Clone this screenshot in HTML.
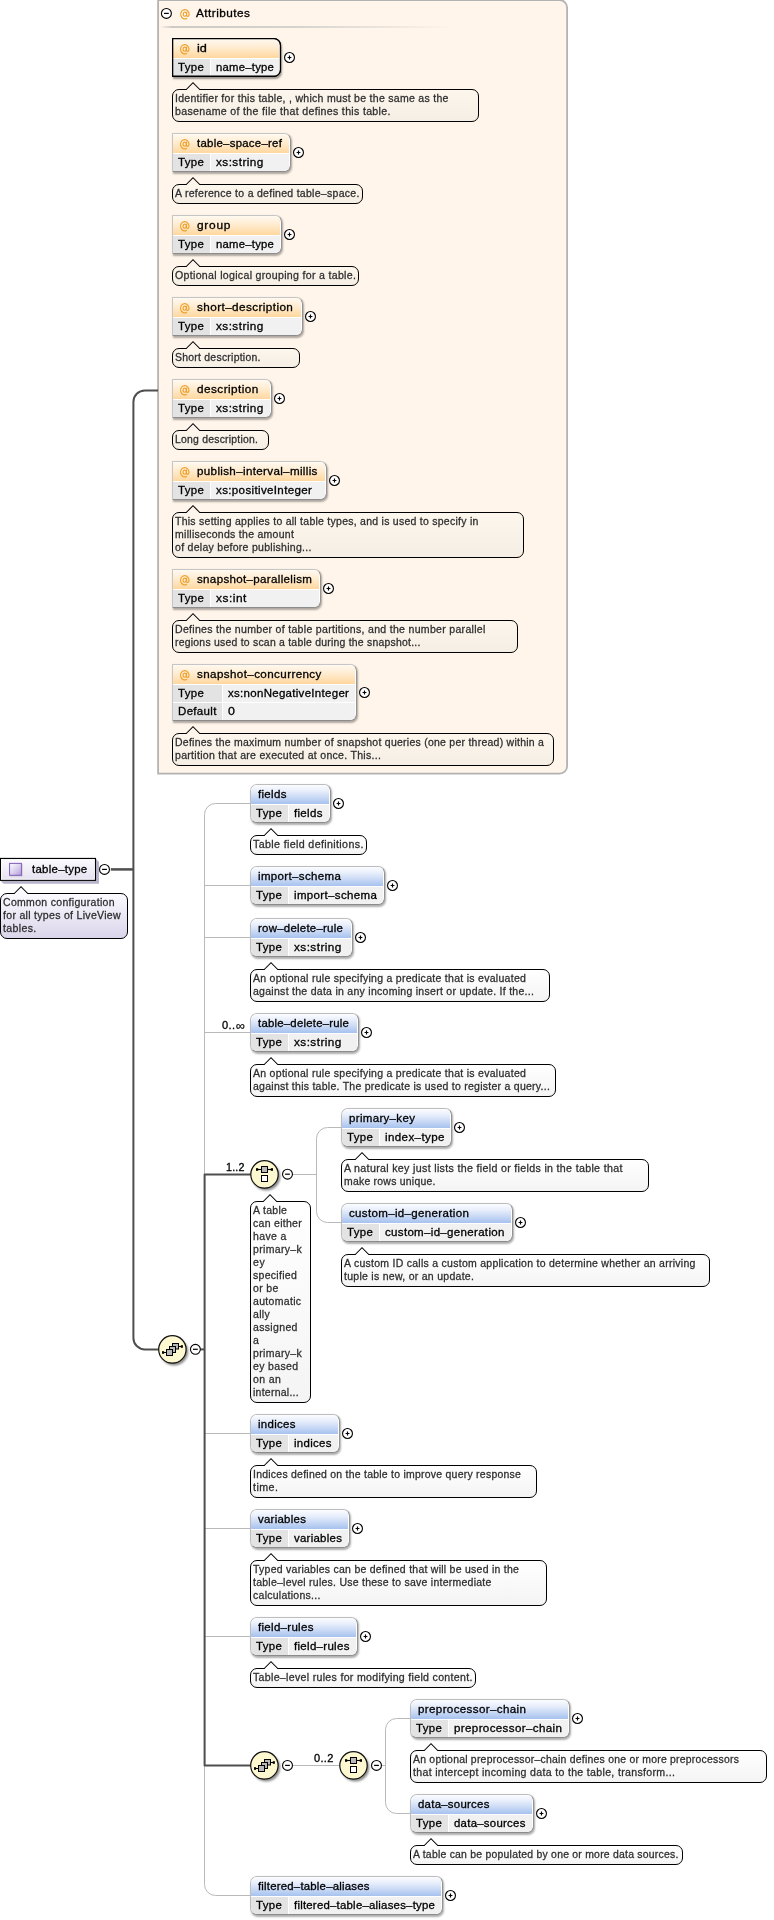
<!DOCTYPE html>
<html><head><meta charset="utf-8"><title>table-type</title><style>
html,body{margin:0;padding:0;background:#fff;}
body{width:774px;height:1920px;position:relative;overflow:hidden;font-family:"Liberation Sans", sans-serif;}
.t{position:absolute;white-space:pre;transform-origin:0 0;font-family:"Liberation Sans", sans-serif;}
.agrp{position:absolute;box-sizing:border-box;background:#fff5ea;border:1.7px solid #b5b5b5;border-radius:0 8px 8px 0;}
.asep{position:absolute;background:linear-gradient(to right,rgba(200,198,194,0),#cdcac6 3%,#d6d2cd 35%,rgba(232,226,218,0) 75%);}
.bx{position:absolute;box-sizing:border-box;border:1px solid;border-color:#bdbdbd #939393 #8c8c8c #bdbdbd;background:#fff;overflow:hidden;box-shadow:1px 1.5px 2px rgba(0,0,0,.32);}
.bx.attr{border-radius:0 7px 7px 0;border-color:#c6c6c6 #939393 #8c8c8c #c6c6c6;}
.bx.attr.req{border:1px solid #000;box-shadow:1px 2px 2px rgba(0,0,0,.4);}
.bx.elem{border-radius:7px;}
.bx .hd{position:absolute;left:0;top:0;right:1px;height:19px;}
.bx.attr .hd{background:linear-gradient(#fff9f1,#ffecd0 45%,#ffd79e);}
.bx.elem .hd{background:linear-gradient(#fbfcff,#e9effb 30%,#ccdbf6 62%,#a6c2ee);}
.bx .k{position:absolute;left:0;background:#e3e3e3;}
.bx .v{position:absolute;right:1px;background:#f1f1f1;}
.tt{position:absolute;box-sizing:border-box;border:1.1px solid #000;border-radius:7px;background:linear-gradient(#fff,#f4f4f4);}
.tt.attr{background:linear-gradient(#fdf6ed,#f5eee5);}
.tt.root{background:linear-gradient(#fbfaff,#dad5ea);}
.ptr{position:absolute;overflow:visible;}
.rootbx{position:absolute;box-sizing:border-box;border:1px solid #000;background:linear-gradient(#fff,#e6e2f2);box-shadow:0 0 0 .45px #000,2px 2.5px 2px rgba(0,0,0,.45);}
.ricon{position:absolute;box-sizing:border-box;border:1.2px solid #7d62b3;background:linear-gradient(135deg,#ece6fa,#b9a6e2);}
svg.ov{position:absolute;left:0;top:0;}
</style></head><body>
<svg class="ov" width="774" height="1920" viewBox="0 0 774 1920"><path d="M158.1 0.1 H559.7 A7.4 7.4 0 0 1 567.1 7.5 V766.2 A7.4 7.4 0 0 1 559.7 773.6 H158.1 Z" fill="#fff5ea" stroke="#b3b3b3" stroke-width="1.8"/><defs><linearGradient id="rg" x1="0" y1="0" x2="0" y2="1"><stop offset="0" stop-color="#fcfbfe"/><stop offset="1" stop-color="#e5e1f0"/></linearGradient><linearGradient id="rs" x1="0" y1="0" x2="1" y2="1"><stop offset="0" stop-color="#a3a0b8"/><stop offset="1" stop-color="#cfcde0"/></linearGradient><linearGradient id="ri" x1="0" y1="0" x2="1" y2="1"><stop offset="0" stop-color="#ffffff"/><stop offset="0.5" stop-color="#dcd2ee"/><stop offset="1" stop-color="#b29bd6"/></linearGradient></defs><path d="M96.1 859.1 L99 862 V883.8 H3.6 L0.8 880.9 H96.1 Z" fill="#b7b4cb"/><path d="M96.1 880.9 H0.8 L3.6 883.8 H99 V862 L96.1 859.1 Z" fill="url(#rs)" opacity="0.0"/><rect x="0.4" y="858.5" width="95.05" height="21.8" fill="url(#rg)" stroke="#000" stroke-width="1.25"/><rect x="1.5" y="859.6" width="92.9" height="19.6" fill="none" stroke="#fff" stroke-width="0.9" opacity="0.85"/><rect x="10.2" y="864" width="12.4" height="12.4" fill="#999" opacity="0.45"/><rect x="9.55" y="863.4" width="11.9" height="11.9" fill="url(#ri)" stroke="#8867c2" stroke-width="1.1"/><path d="M250 803.5 H215.5 A11 11 0 0 0 204.5 814.5 V1884.5 A11 11 0 0 0 215.5 1895.5 H250" stroke="#b9b9b9" stroke-width="1" fill="none"/><path d="M204.5 885.5 H250" stroke="#b9b9b9" stroke-width="1" fill="none"/><path d="M204.5 937.5 H250" stroke="#b9b9b9" stroke-width="1" fill="none"/><path d="M204.5 1032.5 H250" stroke="#b9b9b9" stroke-width="1" fill="none"/><path d="M204.5 1433.5 H250" stroke="#b9b9b9" stroke-width="1" fill="none"/><path d="M204.5 1528.5 H250" stroke="#b9b9b9" stroke-width="1" fill="none"/><path d="M204.5 1636.5 H250" stroke="#b9b9b9" stroke-width="1" fill="none"/><path d="M292 1174.5 H316.5" stroke="#b9b9b9" stroke-width="1" fill="none"/><path d="M341 1127.5 H327.5 A11 11 0 0 0 316.5 1138.5 V1211.5 A11 11 0 0 0 327.5 1222.5 H341" stroke="#b9b9b9" stroke-width="1" fill="none"/><path d="M292 1765.5 H340" stroke="#b9b9b9" stroke-width="1" fill="none"/><path d="M381 1765.5 H385.5" stroke="#b9b9b9" stroke-width="1" fill="none"/><path d="M410 1718.5 H396.5 A11 11 0 0 0 385.5 1729.5 V1802.5 A11 11 0 0 0 396.5 1813.5 H410" stroke="#b9b9b9" stroke-width="1" fill="none"/><path d="M110.8 869.4 H133.4" stroke="#4e4e4e" stroke-width="2.5" fill="none"/><path d="M158 390.4 H144.9 A11.5 11.5 0 0 0 133.4 401.9 V1337.9 A11.5 11.5 0 0 0 144.9 1349.4 H160" stroke="#4e4e4e" stroke-width="2" fill="none"/><path d="M200.5 1349.4 H204.6" stroke="#4e4e4e" stroke-width="2" fill="none"/><path d="M252 1174.5 H204.6 V1765.4 H252" stroke="#4e4e4e" stroke-width="2" fill="none" stroke-linejoin="round"/></svg>
<div class="asep" style="left:160px;top:26px;width:392px;height:2px"></div>
<div class="bx attr req" style="left:172px;top:38px;width:109px;height:39px">
<div class="hd"></div>
<div class="k" style="top:20px;height:17px;width:37px"></div><div class="v" style="top:20px;height:17px;left:38px"></div>
</div>
<div class="tt attr" style="left:172px;top:89px;width:307px;height:33px"></div>
<svg class="ptr" style="left:184.5px;top:81px" width="16" height="10" viewBox="0 0 16 10"><path d="M1.2 8.5 L8 1.7 L14.8 8.5 L14.8 9.6 L1.2 9.6 Z" fill="#fdf5ec"/><path d="M0.7 8.5 H1.2 L8 1.7 L14.8 8.5 H15.3" fill="none" stroke="#000" stroke-width="1.05"/></svg>
<div class="bx attr" style="left:172px;top:133px;width:119px;height:39px">
<div class="hd"></div>
<div class="k" style="top:20px;height:17px;width:37px"></div><div class="v" style="top:20px;height:17px;left:38px"></div>
</div>
<div class="tt attr" style="left:172px;top:184px;width:191px;height:20px"></div>
<svg class="ptr" style="left:184.5px;top:176px" width="16" height="10" viewBox="0 0 16 10"><path d="M1.2 8.5 L8 1.7 L14.8 8.5 L14.8 9.6 L1.2 9.6 Z" fill="#fdf5ec"/><path d="M0.7 8.5 H1.2 L8 1.7 L14.8 8.5 H15.3" fill="none" stroke="#000" stroke-width="1.05"/></svg>
<div class="bx attr" style="left:172px;top:215px;width:110px;height:39px">
<div class="hd"></div>
<div class="k" style="top:20px;height:17px;width:37px"></div><div class="v" style="top:20px;height:17px;left:38px"></div>
</div>
<div class="tt attr" style="left:172px;top:266px;width:187px;height:20px"></div>
<svg class="ptr" style="left:184.5px;top:258px" width="16" height="10" viewBox="0 0 16 10"><path d="M1.2 8.5 L8 1.7 L14.8 8.5 L14.8 9.6 L1.2 9.6 Z" fill="#fdf5ec"/><path d="M0.7 8.5 H1.2 L8 1.7 L14.8 8.5 H15.3" fill="none" stroke="#000" stroke-width="1.05"/></svg>
<div class="bx attr" style="left:172px;top:297px;width:131px;height:39px">
<div class="hd"></div>
<div class="k" style="top:20px;height:17px;width:37px"></div><div class="v" style="top:20px;height:17px;left:38px"></div>
</div>
<div class="tt attr" style="left:172px;top:348px;width:128px;height:20px"></div>
<svg class="ptr" style="left:184.5px;top:340px" width="16" height="10" viewBox="0 0 16 10"><path d="M1.2 8.5 L8 1.7 L14.8 8.5 L14.8 9.6 L1.2 9.6 Z" fill="#fdf5ec"/><path d="M0.7 8.5 H1.2 L8 1.7 L14.8 8.5 H15.3" fill="none" stroke="#000" stroke-width="1.05"/></svg>
<div class="bx attr" style="left:172px;top:379px;width:100px;height:39px">
<div class="hd"></div>
<div class="k" style="top:20px;height:17px;width:37px"></div><div class="v" style="top:20px;height:17px;left:38px"></div>
</div>
<div class="tt attr" style="left:172px;top:430px;width:97px;height:20px"></div>
<svg class="ptr" style="left:184.5px;top:422px" width="16" height="10" viewBox="0 0 16 10"><path d="M1.2 8.5 L8 1.7 L14.8 8.5 L14.8 9.6 L1.2 9.6 Z" fill="#fdf5ec"/><path d="M0.7 8.5 H1.2 L8 1.7 L14.8 8.5 H15.3" fill="none" stroke="#000" stroke-width="1.05"/></svg>
<div class="bx attr" style="left:172px;top:461px;width:155px;height:39px">
<div class="hd"></div>
<div class="k" style="top:20px;height:17px;width:37px"></div><div class="v" style="top:20px;height:17px;left:38px"></div>
</div>
<div class="tt attr" style="left:172px;top:512px;width:352px;height:46px"></div>
<svg class="ptr" style="left:184.5px;top:504px" width="16" height="10" viewBox="0 0 16 10"><path d="M1.2 8.5 L8 1.7 L14.8 8.5 L14.8 9.6 L1.2 9.6 Z" fill="#fdf5ec"/><path d="M0.7 8.5 H1.2 L8 1.7 L14.8 8.5 H15.3" fill="none" stroke="#000" stroke-width="1.05"/></svg>
<div class="bx attr" style="left:172px;top:569px;width:149px;height:39px">
<div class="hd"></div>
<div class="k" style="top:20px;height:17px;width:37px"></div><div class="v" style="top:20px;height:17px;left:38px"></div>
</div>
<div class="tt attr" style="left:172px;top:620px;width:346px;height:33px"></div>
<svg class="ptr" style="left:184.5px;top:612px" width="16" height="10" viewBox="0 0 16 10"><path d="M1.2 8.5 L8 1.7 L14.8 8.5 L14.8 9.6 L1.2 9.6 Z" fill="#fdf5ec"/><path d="M0.7 8.5 H1.2 L8 1.7 L14.8 8.5 H15.3" fill="none" stroke="#000" stroke-width="1.05"/></svg>
<div class="bx attr" style="left:172px;top:664px;width:185px;height:57px">
<div class="hd"></div>
<div class="k" style="top:20px;height:17px;width:49px"></div><div class="v" style="top:20px;height:17px;left:50px"></div>
<div class="k" style="top:38px;height:17px;width:49px"></div><div class="v" style="top:38px;height:17px;left:50px"></div>
</div>
<div class="tt attr" style="left:172px;top:733px;width:382px;height:33px"></div>
<svg class="ptr" style="left:184.5px;top:725px" width="16" height="10" viewBox="0 0 16 10"><path d="M1.2 8.5 L8 1.7 L14.8 8.5 L14.8 9.6 L1.2 9.6 Z" fill="#fdf5ec"/><path d="M0.7 8.5 H1.2 L8 1.7 L14.8 8.5 H15.3" fill="none" stroke="#000" stroke-width="1.05"/></svg>
<div class="tt root" style="left:0px;top:893px;width:128px;height:46px"></div>
<svg class="ptr" style="left:12.7px;top:885px" width="16" height="10" viewBox="0 0 16 10"><path d="M1.2 8.5 L8 1.7 L14.8 8.5 L14.8 9.6 L1.2 9.6 Z" fill="#fbfaff"/><path d="M0.7 8.5 H1.2 L8 1.7 L14.8 8.5 H15.3" fill="none" stroke="#000" stroke-width="1.05"/></svg>
<div class="bx elem" style="left:250px;top:784px;width:81px;height:39px">
<div class="hd"></div>
<div class="k" style="top:20px;height:17px;width:37px"></div><div class="v" style="top:20px;height:17px;left:38px"></div>
</div>
<div class="tt el" style="left:250px;top:835px;width:117px;height:20px"></div>
<svg class="ptr" style="left:262.5px;top:827px" width="16" height="10" viewBox="0 0 16 10"><path d="M1.2 8.5 L8 1.7 L14.8 8.5 L14.8 9.6 L1.2 9.6 Z" fill="#fff"/><path d="M0.7 8.5 H1.2 L8 1.7 L14.8 8.5 H15.3" fill="none" stroke="#000" stroke-width="1.05"/></svg>
<div class="bx elem" style="left:250px;top:866px;width:135px;height:39px">
<div class="hd"></div>
<div class="k" style="top:20px;height:17px;width:37px"></div><div class="v" style="top:20px;height:17px;left:38px"></div>
</div>
<div class="bx elem" style="left:250px;top:918px;width:103px;height:39px">
<div class="hd"></div>
<div class="k" style="top:20px;height:17px;width:37px"></div><div class="v" style="top:20px;height:17px;left:38px"></div>
</div>
<div class="tt el" style="left:250px;top:969px;width:300px;height:33px"></div>
<svg class="ptr" style="left:262.5px;top:961px" width="16" height="10" viewBox="0 0 16 10"><path d="M1.2 8.5 L8 1.7 L14.8 8.5 L14.8 9.6 L1.2 9.6 Z" fill="#fff"/><path d="M0.7 8.5 H1.2 L8 1.7 L14.8 8.5 H15.3" fill="none" stroke="#000" stroke-width="1.05"/></svg>
<div class="bx elem" style="left:250px;top:1013px;width:109px;height:39px">
<div class="hd"></div>
<div class="k" style="top:20px;height:17px;width:37px"></div><div class="v" style="top:20px;height:17px;left:38px"></div>
</div>
<div class="tt el" style="left:250px;top:1064px;width:306px;height:33px"></div>
<svg class="ptr" style="left:262.5px;top:1056px" width="16" height="10" viewBox="0 0 16 10"><path d="M1.2 8.5 L8 1.7 L14.8 8.5 L14.8 9.6 L1.2 9.6 Z" fill="#fff"/><path d="M0.7 8.5 H1.2 L8 1.7 L14.8 8.5 H15.3" fill="none" stroke="#000" stroke-width="1.05"/></svg>
<div class="bx elem" style="left:341px;top:1108px;width:111px;height:39px">
<div class="hd"></div>
<div class="k" style="top:20px;height:17px;width:37px"></div><div class="v" style="top:20px;height:17px;left:38px"></div>
</div>
<div class="tt el" style="left:341px;top:1159px;width:308px;height:33px"></div>
<svg class="ptr" style="left:353.5px;top:1151px" width="16" height="10" viewBox="0 0 16 10"><path d="M1.2 8.5 L8 1.7 L14.8 8.5 L14.8 9.6 L1.2 9.6 Z" fill="#fff"/><path d="M0.7 8.5 H1.2 L8 1.7 L14.8 8.5 H15.3" fill="none" stroke="#000" stroke-width="1.05"/></svg>
<div class="bx elem" style="left:341px;top:1203px;width:172px;height:39px">
<div class="hd"></div>
<div class="k" style="top:20px;height:17px;width:37px"></div><div class="v" style="top:20px;height:17px;left:38px"></div>
</div>
<div class="tt el" style="left:341px;top:1254px;width:369px;height:33px"></div>
<svg class="ptr" style="left:353.5px;top:1246px" width="16" height="10" viewBox="0 0 16 10"><path d="M1.2 8.5 L8 1.7 L14.8 8.5 L14.8 9.6 L1.2 9.6 Z" fill="#fff"/><path d="M0.7 8.5 H1.2 L8 1.7 L14.8 8.5 H15.3" fill="none" stroke="#000" stroke-width="1.05"/></svg>
<div class="bx elem" style="left:250px;top:1414px;width:90px;height:39px">
<div class="hd"></div>
<div class="k" style="top:20px;height:17px;width:37px"></div><div class="v" style="top:20px;height:17px;left:38px"></div>
</div>
<div class="tt el" style="left:250px;top:1465px;width:287px;height:33px"></div>
<svg class="ptr" style="left:262.5px;top:1457px" width="16" height="10" viewBox="0 0 16 10"><path d="M1.2 8.5 L8 1.7 L14.8 8.5 L14.8 9.6 L1.2 9.6 Z" fill="#fff"/><path d="M0.7 8.5 H1.2 L8 1.7 L14.8 8.5 H15.3" fill="none" stroke="#000" stroke-width="1.05"/></svg>
<div class="bx elem" style="left:250px;top:1509px;width:100px;height:39px">
<div class="hd"></div>
<div class="k" style="top:20px;height:17px;width:37px"></div><div class="v" style="top:20px;height:17px;left:38px"></div>
</div>
<div class="tt el" style="left:250px;top:1560px;width:297px;height:46px"></div>
<svg class="ptr" style="left:262.5px;top:1552px" width="16" height="10" viewBox="0 0 16 10"><path d="M1.2 8.5 L8 1.7 L14.8 8.5 L14.8 9.6 L1.2 9.6 Z" fill="#fff"/><path d="M0.7 8.5 H1.2 L8 1.7 L14.8 8.5 H15.3" fill="none" stroke="#000" stroke-width="1.05"/></svg>
<div class="bx elem" style="left:250px;top:1617px;width:108px;height:39px">
<div class="hd"></div>
<div class="k" style="top:20px;height:17px;width:37px"></div><div class="v" style="top:20px;height:17px;left:38px"></div>
</div>
<div class="tt el" style="left:250px;top:1668px;width:226px;height:20px"></div>
<svg class="ptr" style="left:262.5px;top:1660px" width="16" height="10" viewBox="0 0 16 10"><path d="M1.2 8.5 L8 1.7 L14.8 8.5 L14.8 9.6 L1.2 9.6 Z" fill="#fff"/><path d="M0.7 8.5 H1.2 L8 1.7 L14.8 8.5 H15.3" fill="none" stroke="#000" stroke-width="1.05"/></svg>
<div class="bx elem" style="left:410px;top:1699px;width:160px;height:39px">
<div class="hd"></div>
<div class="k" style="top:20px;height:17px;width:37px"></div><div class="v" style="top:20px;height:17px;left:38px"></div>
</div>
<div class="tt el" style="left:410px;top:1750px;width:357px;height:33px"></div>
<svg class="ptr" style="left:422.5px;top:1742px" width="16" height="10" viewBox="0 0 16 10"><path d="M1.2 8.5 L8 1.7 L14.8 8.5 L14.8 9.6 L1.2 9.6 Z" fill="#fff"/><path d="M0.7 8.5 H1.2 L8 1.7 L14.8 8.5 H15.3" fill="none" stroke="#000" stroke-width="1.05"/></svg>
<div class="bx elem" style="left:410px;top:1794px;width:124px;height:39px">
<div class="hd"></div>
<div class="k" style="top:20px;height:17px;width:37px"></div><div class="v" style="top:20px;height:17px;left:38px"></div>
</div>
<div class="tt el" style="left:410px;top:1845px;width:273px;height:20px"></div>
<svg class="ptr" style="left:422.5px;top:1837px" width="16" height="10" viewBox="0 0 16 10"><path d="M1.2 8.5 L8 1.7 L14.8 8.5 L14.8 9.6 L1.2 9.6 Z" fill="#fff"/><path d="M0.7 8.5 H1.2 L8 1.7 L14.8 8.5 H15.3" fill="none" stroke="#000" stroke-width="1.05"/></svg>
<div class="bx elem" style="left:250px;top:1876px;width:193px;height:39px">
<div class="hd"></div>
<div class="k" style="top:20px;height:17px;width:37px"></div><div class="v" style="top:20px;height:17px;left:38px"></div>
</div>
<div class="tt el" style="left:250px;top:1201px;width:61px;height:202px"></div>
<svg class="ptr" style="left:262.2px;top:1193px" width="16" height="10" viewBox="0 0 16 10"><path d="M1.2 8.5 L8 1.7 L14.8 8.5 L14.8 9.6 L1.2 9.6 Z" fill="#fff"/><path d="M0.7 8.5 H1.2 L8 1.7 L14.8 8.5 H15.3" fill="none" stroke="#000" stroke-width="1.05"/></svg>
<span class="t" style="left:196.40px;top:7.69px;font-size:11px;line-height:11px;color:#000;transform:scaleX(1.0720);letter-spacing:0.424px;-webkit-text-stroke:0.3px #000;">Attributes</span>
<span class="t" style="left:197.00px;top:42.99px;font-size:11px;line-height:11px;color:#000;transform:scaleX(1.1562);-webkit-text-stroke:0.3px #000;">id</span>
<span class="t" style="left:177.90px;top:62.19px;font-size:11px;line-height:11px;color:#000;transform:scaleX(1.0385);letter-spacing:0.360px;-webkit-text-stroke:0.3px #000;">Type</span>
<span class="t" style="left:215.90px;top:62.19px;font-size:11px;line-height:11px;color:#000;transform:scaleX(1.0286);letter-spacing:0.231px;-webkit-text-stroke:0.3px #000;">name–type</span>
<span class="t" style="left:175.40px;top:93.53px;font-size:10px;line-height:10px;color:#2e2e2e;transform:scaleX(1.0530);letter-spacing:0.264px;-webkit-text-stroke:0.26px #2e2e2e;">Identifier for this table, , which must be the same as the</span>
<span class="t" style="left:175.40px;top:106.53px;font-size:10px;line-height:10px;color:#2e2e2e;transform:scaleX(1.0598);letter-spacing:0.298px;-webkit-text-stroke:0.26px #2e2e2e;">basename of the file that defines this table.</span>
<span class="t" style="left:197.00px;top:137.99px;font-size:11px;line-height:11px;color:#000;transform:scaleX(1.0380);letter-spacing:0.250px;-webkit-text-stroke:0.3px #000;">table–space–ref</span>
<span class="t" style="left:177.90px;top:157.19px;font-size:11px;line-height:11px;color:#000;transform:scaleX(1.0385);letter-spacing:0.360px;-webkit-text-stroke:0.3px #000;">Type</span>
<span class="t" style="left:215.90px;top:157.19px;font-size:11px;line-height:11px;color:#000;transform:scaleX(1.0706);letter-spacing:0.413px;-webkit-text-stroke:0.3px #000;">xs:string</span>
<span class="t" style="left:175.40px;top:188.53px;font-size:10px;line-height:10px;color:#2e2e2e;transform:scaleX(1.0508);letter-spacing:0.272px;-webkit-text-stroke:0.26px #2e2e2e;">A reference to a defined table–space.</span>
<span class="t" style="left:197.00px;top:219.99px;font-size:11px;line-height:11px;color:#000;transform:scaleX(1.0841);letter-spacing:0.667px;-webkit-text-stroke:0.3px #000;">group</span>
<span class="t" style="left:177.90px;top:239.19px;font-size:11px;line-height:11px;color:#000;transform:scaleX(1.0385);letter-spacing:0.360px;-webkit-text-stroke:0.3px #000;">Type</span>
<span class="t" style="left:215.90px;top:239.19px;font-size:11px;line-height:11px;color:#000;transform:scaleX(1.0286);letter-spacing:0.231px;-webkit-text-stroke:0.3px #000;">name–type</span>
<span class="t" style="left:175.40px;top:270.54px;font-size:10px;line-height:10px;color:#2e2e2e;transform:scaleX(1.0584);letter-spacing:0.292px;-webkit-text-stroke:0.26px #2e2e2e;">Optional logical grouping for a table.</span>
<span class="t" style="left:197.00px;top:301.99px;font-size:11px;line-height:11px;color:#000;transform:scaleX(1.0651);letter-spacing:0.391px;-webkit-text-stroke:0.3px #000;">short–description</span>
<span class="t" style="left:177.90px;top:321.19px;font-size:11px;line-height:11px;color:#000;transform:scaleX(1.0385);letter-spacing:0.360px;-webkit-text-stroke:0.3px #000;">Type</span>
<span class="t" style="left:215.90px;top:321.19px;font-size:11px;line-height:11px;color:#000;transform:scaleX(1.0706);letter-spacing:0.413px;-webkit-text-stroke:0.3px #000;">xs:string</span>
<span class="t" style="left:175.40px;top:352.54px;font-size:10px;line-height:10px;color:#2e2e2e;transform:scaleX(1.0438);letter-spacing:0.235px;-webkit-text-stroke:0.26px #2e2e2e;">Short description.</span>
<span class="t" style="left:197.00px;top:383.99px;font-size:11px;line-height:11px;color:#000;transform:scaleX(1.0693);letter-spacing:0.422px;-webkit-text-stroke:0.3px #000;">description</span>
<span class="t" style="left:177.90px;top:403.19px;font-size:11px;line-height:11px;color:#000;transform:scaleX(1.0385);letter-spacing:0.360px;-webkit-text-stroke:0.3px #000;">Type</span>
<span class="t" style="left:215.90px;top:403.19px;font-size:11px;line-height:11px;color:#000;transform:scaleX(1.0706);letter-spacing:0.413px;-webkit-text-stroke:0.3px #000;">xs:string</span>
<span class="t" style="left:175.40px;top:434.54px;font-size:10px;line-height:10px;color:#2e2e2e;transform:scaleX(1.0397);letter-spacing:0.222px;-webkit-text-stroke:0.26px #2e2e2e;">Long description.</span>
<span class="t" style="left:197.00px;top:465.99px;font-size:11px;line-height:11px;color:#000;transform:scaleX(1.0564);letter-spacing:0.317px;-webkit-text-stroke:0.3px #000;">publish–interval–millis</span>
<span class="t" style="left:177.90px;top:485.19px;font-size:11px;line-height:11px;color:#000;transform:scaleX(1.0385);letter-spacing:0.360px;-webkit-text-stroke:0.3px #000;">Type</span>
<span class="t" style="left:215.90px;top:485.19px;font-size:11px;line-height:11px;color:#000;transform:scaleX(1.0541);letter-spacing:0.316px;-webkit-text-stroke:0.3px #000;">xs:positiveInteger</span>
<span class="t" style="left:175.40px;top:516.53px;font-size:10px;line-height:10px;color:#2e2e2e;transform:scaleX(1.0502);letter-spacing:0.245px;-webkit-text-stroke:0.26px #2e2e2e;">This setting applies to all table types, and is used to specify in</span>
<span class="t" style="left:175.40px;top:529.53px;font-size:10px;line-height:10px;color:#2e2e2e;transform:scaleX(1.0487);letter-spacing:0.277px;-webkit-text-stroke:0.26px #2e2e2e;">milliseconds the amount</span>
<span class="t" style="left:175.40px;top:542.53px;font-size:10px;line-height:10px;color:#2e2e2e;transform:scaleX(1.0518);letter-spacing:0.263px;-webkit-text-stroke:0.26px #2e2e2e;">of delay before publishing...</span>
<span class="t" style="left:197.00px;top:573.99px;font-size:11px;line-height:11px;color:#000;transform:scaleX(1.0503);letter-spacing:0.318px;-webkit-text-stroke:0.3px #000;">snapshot–parallelism</span>
<span class="t" style="left:177.90px;top:593.19px;font-size:11px;line-height:11px;color:#000;transform:scaleX(1.0385);letter-spacing:0.360px;-webkit-text-stroke:0.3px #000;">Type</span>
<span class="t" style="left:215.90px;top:593.19px;font-size:11px;line-height:11px;color:#000;transform:scaleX(1.0826);letter-spacing:0.479px;-webkit-text-stroke:0.3px #000;">xs:int</span>
<span class="t" style="left:175.40px;top:624.53px;font-size:10px;line-height:10px;color:#2e2e2e;transform:scaleX(1.0545);letter-spacing:0.282px;-webkit-text-stroke:0.26px #2e2e2e;">Defines the number of table partitions, and the number parallel</span>
<span class="t" style="left:175.40px;top:637.53px;font-size:10px;line-height:10px;color:#2e2e2e;transform:scaleX(1.0429);letter-spacing:0.225px;-webkit-text-stroke:0.26px #2e2e2e;">regions used to scan a table during the snapshot...</span>
<span class="t" style="left:197.00px;top:668.99px;font-size:11px;line-height:11px;color:#000;transform:scaleX(1.0557);letter-spacing:0.376px;-webkit-text-stroke:0.3px #000;">snapshot–concurrency</span>
<span class="t" style="left:177.90px;top:688.19px;font-size:11px;line-height:11px;color:#000;transform:scaleX(1.0385);letter-spacing:0.360px;-webkit-text-stroke:0.3px #000;">Type</span>
<span class="t" style="left:227.90px;top:688.19px;font-size:11px;line-height:11px;color:#000;transform:scaleX(1.0442);letter-spacing:0.285px;-webkit-text-stroke:0.3px #000;">xs:nonNegativeInteger</span>
<span class="t" style="left:177.90px;top:706.19px;font-size:11px;line-height:11px;color:#000;transform:scaleX(1.0457);letter-spacing:0.310px;-webkit-text-stroke:0.3px #000;">Default</span>
<span class="t" style="left:227.90px;top:706.19px;font-size:11px;line-height:11px;color:#000;transform:scaleX(1.1265);-webkit-text-stroke:0.3px #000;">0</span>
<span class="t" style="left:175.40px;top:737.53px;font-size:10px;line-height:10px;color:#2e2e2e;transform:scaleX(1.0461);letter-spacing:0.254px;-webkit-text-stroke:0.26px #2e2e2e;">Defines the maximum number of snapshot queries (one per thread) within a</span>
<span class="t" style="left:175.40px;top:750.53px;font-size:10px;line-height:10px;color:#2e2e2e;transform:scaleX(1.0540);letter-spacing:0.268px;-webkit-text-stroke:0.26px #2e2e2e;">partition that are executed at once. This...</span>
<span class="t" style="left:31.70px;top:864.09px;font-size:11px;line-height:11px;color:#000;transform:scaleX(1.0393);letter-spacing:0.261px;-webkit-text-stroke:0.3px #000;">table–type</span>
<span class="t" style="left:3.40px;top:897.53px;font-size:10px;line-height:10px;color:#2e2e2e;transform:scaleX(1.0492);letter-spacing:0.303px;-webkit-text-stroke:0.26px #2e2e2e;">Common configuration</span>
<span class="t" style="left:3.40px;top:910.53px;font-size:10px;line-height:10px;color:#2e2e2e;transform:scaleX(1.0546);letter-spacing:0.277px;-webkit-text-stroke:0.26px #2e2e2e;">for all types of LiveView</span>
<span class="t" style="left:3.40px;top:923.53px;font-size:10px;line-height:10px;color:#2e2e2e;transform:scaleX(1.0570);letter-spacing:0.324px;-webkit-text-stroke:0.26px #2e2e2e;">tables.</span>
<span class="t" style="left:225.90px;top:1162.41px;font-size:10.5px;line-height:10.5px;color:#000;transform:scaleX(1.0227);letter-spacing:0.159px;-webkit-text-stroke:0.3px #000;">1..2</span>
<span class="t" style="left:313.90px;top:1752.91px;font-size:10.5px;line-height:10.5px;color:#000;transform:scaleX(1.0484);letter-spacing:0.330px;-webkit-text-stroke:0.3px #000;">0..2</span>
<span class="t" style="left:221.90px;top:1020.41px;font-size:10.5px;line-height:10.5px;color:#000;transform:scaleX(1.0544);letter-spacing:0.368px;-webkit-text-stroke:0.3px #000;">0..</span>
<span class="t" style="left:236.20px;top:1018.90px;font-size:13px;line-height:13px;color:#000;transform:scaleX(0.9589);-webkit-text-stroke:0.2px #000;">∞</span>
<span class="t" style="left:257.90px;top:788.79px;font-size:11px;line-height:11px;color:#000;transform:scaleX(1.0475);letter-spacing:0.285px;-webkit-text-stroke:0.3px #000;">fields</span>
<span class="t" style="left:255.90px;top:808.19px;font-size:11px;line-height:11px;color:#000;transform:scaleX(1.0385);letter-spacing:0.360px;-webkit-text-stroke:0.3px #000;">Type</span>
<span class="t" style="left:293.90px;top:808.19px;font-size:11px;line-height:11px;color:#000;transform:scaleX(1.0475);letter-spacing:0.285px;-webkit-text-stroke:0.3px #000;">fields</span>
<span class="t" style="left:253.40px;top:839.53px;font-size:10px;line-height:10px;color:#2e2e2e;transform:scaleX(1.0695);letter-spacing:0.330px;-webkit-text-stroke:0.26px #2e2e2e;">Table field definitions.</span>
<span class="t" style="left:257.90px;top:870.79px;font-size:11px;line-height:11px;color:#000;transform:scaleX(1.0461);letter-spacing:0.337px;-webkit-text-stroke:0.3px #000;">import–schema</span>
<span class="t" style="left:255.90px;top:890.19px;font-size:11px;line-height:11px;color:#000;transform:scaleX(1.0385);letter-spacing:0.360px;-webkit-text-stroke:0.3px #000;">Type</span>
<span class="t" style="left:293.90px;top:890.19px;font-size:11px;line-height:11px;color:#000;transform:scaleX(1.0461);letter-spacing:0.337px;-webkit-text-stroke:0.3px #000;">import–schema</span>
<span class="t" style="left:257.90px;top:922.79px;font-size:11px;line-height:11px;color:#000;transform:scaleX(1.0380);letter-spacing:0.250px;-webkit-text-stroke:0.3px #000;">row–delete–rule</span>
<span class="t" style="left:255.90px;top:942.19px;font-size:11px;line-height:11px;color:#000;transform:scaleX(1.0385);letter-spacing:0.360px;-webkit-text-stroke:0.3px #000;">Type</span>
<span class="t" style="left:293.90px;top:942.19px;font-size:11px;line-height:11px;color:#000;transform:scaleX(1.0706);letter-spacing:0.413px;-webkit-text-stroke:0.3px #000;">xs:string</span>
<span class="t" style="left:253.40px;top:973.53px;font-size:10px;line-height:10px;color:#2e2e2e;transform:scaleX(1.0520);letter-spacing:0.264px;-webkit-text-stroke:0.26px #2e2e2e;">An optional rule specifying a predicate that is evaluated</span>
<span class="t" style="left:253.40px;top:986.53px;font-size:10px;line-height:10px;color:#2e2e2e;transform:scaleX(1.0519);letter-spacing:0.258px;-webkit-text-stroke:0.26px #2e2e2e;">against the data in any incoming insert or update. If the...</span>
<span class="t" style="left:257.90px;top:1017.79px;font-size:11px;line-height:11px;color:#000;transform:scaleX(1.0346);letter-spacing:0.216px;-webkit-text-stroke:0.3px #000;">table–delete–rule</span>
<span class="t" style="left:255.90px;top:1037.19px;font-size:11px;line-height:11px;color:#000;transform:scaleX(1.0385);letter-spacing:0.360px;-webkit-text-stroke:0.3px #000;">Type</span>
<span class="t" style="left:293.90px;top:1037.19px;font-size:11px;line-height:11px;color:#000;transform:scaleX(1.0706);letter-spacing:0.413px;-webkit-text-stroke:0.3px #000;">xs:string</span>
<span class="t" style="left:253.40px;top:1068.54px;font-size:10px;line-height:10px;color:#2e2e2e;transform:scaleX(1.0520);letter-spacing:0.264px;-webkit-text-stroke:0.26px #2e2e2e;">An optional rule specifying a predicate that is evaluated</span>
<span class="t" style="left:253.40px;top:1081.54px;font-size:10px;line-height:10px;color:#2e2e2e;transform:scaleX(1.0504);letter-spacing:0.248px;-webkit-text-stroke:0.26px #2e2e2e;">against this table. The predicate is used to register a query...</span>
<span class="t" style="left:348.90px;top:1112.79px;font-size:11px;line-height:11px;color:#000;transform:scaleX(1.0450);letter-spacing:0.315px;-webkit-text-stroke:0.3px #000;">primary–key</span>
<span class="t" style="left:346.90px;top:1132.19px;font-size:11px;line-height:11px;color:#000;transform:scaleX(1.0385);letter-spacing:0.360px;-webkit-text-stroke:0.3px #000;">Type</span>
<span class="t" style="left:384.90px;top:1132.19px;font-size:11px;line-height:11px;color:#000;transform:scaleX(1.0523);letter-spacing:0.359px;-webkit-text-stroke:0.3px #000;">index–type</span>
<span class="t" style="left:344.40px;top:1163.54px;font-size:10px;line-height:10px;color:#2e2e2e;transform:scaleX(1.0657);letter-spacing:0.300px;-webkit-text-stroke:0.26px #2e2e2e;">A natural key just lists the field or fields in the table that</span>
<span class="t" style="left:344.40px;top:1176.54px;font-size:10px;line-height:10px;color:#2e2e2e;transform:scaleX(1.0400);letter-spacing:0.247px;-webkit-text-stroke:0.26px #2e2e2e;">make rows unique.</span>
<span class="t" style="left:348.90px;top:1207.79px;font-size:11px;line-height:11px;color:#000;transform:scaleX(1.0484);letter-spacing:0.322px;-webkit-text-stroke:0.3px #000;">custom–id–generation</span>
<span class="t" style="left:346.90px;top:1227.19px;font-size:11px;line-height:11px;color:#000;transform:scaleX(1.0385);letter-spacing:0.360px;-webkit-text-stroke:0.3px #000;">Type</span>
<span class="t" style="left:384.90px;top:1227.19px;font-size:11px;line-height:11px;color:#000;transform:scaleX(1.0464);letter-spacing:0.308px;-webkit-text-stroke:0.3px #000;">custom–id–generation</span>
<span class="t" style="left:344.40px;top:1258.54px;font-size:10px;line-height:10px;color:#2e2e2e;transform:scaleX(1.0491);letter-spacing:0.259px;-webkit-text-stroke:0.26px #2e2e2e;">A custom ID calls a custom application to determine whether an arriving</span>
<span class="t" style="left:344.40px;top:1271.54px;font-size:10px;line-height:10px;color:#2e2e2e;transform:scaleX(1.0507);letter-spacing:0.265px;-webkit-text-stroke:0.26px #2e2e2e;">tuple is new, or an update.</span>
<span class="t" style="left:257.90px;top:1418.79px;font-size:11px;line-height:11px;color:#000;transform:scaleX(1.0414);letter-spacing:0.277px;-webkit-text-stroke:0.3px #000;">indices</span>
<span class="t" style="left:255.90px;top:1438.19px;font-size:11px;line-height:11px;color:#000;transform:scaleX(1.0385);letter-spacing:0.360px;-webkit-text-stroke:0.3px #000;">Type</span>
<span class="t" style="left:293.90px;top:1438.19px;font-size:11px;line-height:11px;color:#000;transform:scaleX(1.0414);letter-spacing:0.277px;-webkit-text-stroke:0.3px #000;">indices</span>
<span class="t" style="left:253.40px;top:1469.54px;font-size:10px;line-height:10px;color:#2e2e2e;transform:scaleX(1.0451);letter-spacing:0.242px;-webkit-text-stroke:0.26px #2e2e2e;">Indices defined on the table to improve query response</span>
<span class="t" style="left:253.40px;top:1482.54px;font-size:10px;line-height:10px;color:#2e2e2e;transform:scaleX(1.0670);letter-spacing:0.416px;-webkit-text-stroke:0.26px #2e2e2e;">time.</span>
<span class="t" style="left:257.90px;top:1513.79px;font-size:11px;line-height:11px;color:#000;transform:scaleX(1.0395);letter-spacing:0.256px;-webkit-text-stroke:0.3px #000;">variables</span>
<span class="t" style="left:255.90px;top:1533.19px;font-size:11px;line-height:11px;color:#000;transform:scaleX(1.0385);letter-spacing:0.360px;-webkit-text-stroke:0.3px #000;">Type</span>
<span class="t" style="left:293.90px;top:1533.19px;font-size:11px;line-height:11px;color:#000;transform:scaleX(1.0395);letter-spacing:0.256px;-webkit-text-stroke:0.3px #000;">variables</span>
<span class="t" style="left:253.40px;top:1564.54px;font-size:10px;line-height:10px;color:#2e2e2e;transform:scaleX(1.0482);letter-spacing:0.250px;-webkit-text-stroke:0.26px #2e2e2e;">Typed variables can be defined that will be used in the</span>
<span class="t" style="left:253.40px;top:1577.54px;font-size:10px;line-height:10px;color:#2e2e2e;transform:scaleX(1.0474);letter-spacing:0.248px;-webkit-text-stroke:0.26px #2e2e2e;">table–level rules. Use these to save intermediate</span>
<span class="t" style="left:253.40px;top:1590.54px;font-size:10px;line-height:10px;color:#2e2e2e;transform:scaleX(1.0505);letter-spacing:0.255px;-webkit-text-stroke:0.26px #2e2e2e;">calculations...</span>
<span class="t" style="left:257.90px;top:1621.79px;font-size:11px;line-height:11px;color:#000;transform:scaleX(1.0472);letter-spacing:0.276px;-webkit-text-stroke:0.3px #000;">field–rules</span>
<span class="t" style="left:255.90px;top:1641.19px;font-size:11px;line-height:11px;color:#000;transform:scaleX(1.0385);letter-spacing:0.360px;-webkit-text-stroke:0.3px #000;">Type</span>
<span class="t" style="left:293.90px;top:1641.19px;font-size:11px;line-height:11px;color:#000;transform:scaleX(1.0472);letter-spacing:0.276px;-webkit-text-stroke:0.3px #000;">field–rules</span>
<span class="t" style="left:253.40px;top:1672.54px;font-size:10px;line-height:10px;color:#2e2e2e;transform:scaleX(1.0589);letter-spacing:0.293px;-webkit-text-stroke:0.26px #2e2e2e;">Table–level rules for modifying field content.</span>
<span class="t" style="left:417.90px;top:1703.79px;font-size:11px;line-height:11px;color:#000;transform:scaleX(1.0525);letter-spacing:0.347px;-webkit-text-stroke:0.3px #000;">preprocessor–chain</span>
<span class="t" style="left:415.90px;top:1723.19px;font-size:11px;line-height:11px;color:#000;transform:scaleX(1.0385);letter-spacing:0.360px;-webkit-text-stroke:0.3px #000;">Type</span>
<span class="t" style="left:453.90px;top:1723.19px;font-size:11px;line-height:11px;color:#000;transform:scaleX(1.0525);letter-spacing:0.347px;-webkit-text-stroke:0.3px #000;">preprocessor–chain</span>
<span class="t" style="left:413.40px;top:1754.54px;font-size:10px;line-height:10px;color:#2e2e2e;transform:scaleX(1.0413);letter-spacing:0.230px;-webkit-text-stroke:0.26px #2e2e2e;">An optional preprocessor–chain defines one or more preprocessors</span>
<span class="t" style="left:413.40px;top:1767.54px;font-size:10px;line-height:10px;color:#2e2e2e;transform:scaleX(1.0596);letter-spacing:0.295px;-webkit-text-stroke:0.26px #2e2e2e;">that intercept incoming data to the table, transform...</span>
<span class="t" style="left:417.90px;top:1798.79px;font-size:11px;line-height:11px;color:#000;transform:scaleX(1.0365);letter-spacing:0.258px;-webkit-text-stroke:0.3px #000;">data–sources</span>
<span class="t" style="left:415.90px;top:1818.19px;font-size:11px;line-height:11px;color:#000;transform:scaleX(1.0385);letter-spacing:0.360px;-webkit-text-stroke:0.3px #000;">Type</span>
<span class="t" style="left:453.90px;top:1818.19px;font-size:11px;line-height:11px;color:#000;transform:scaleX(1.0365);letter-spacing:0.258px;-webkit-text-stroke:0.3px #000;">data–sources</span>
<span class="t" style="left:413.40px;top:1849.54px;font-size:10px;line-height:10px;color:#2e2e2e;transform:scaleX(1.0416);letter-spacing:0.228px;-webkit-text-stroke:0.26px #2e2e2e;">A table can be populated by one or more data sources.</span>
<span class="t" style="left:257.90px;top:1880.79px;font-size:11px;line-height:11px;color:#000;transform:scaleX(1.0350);letter-spacing:0.203px;-webkit-text-stroke:0.3px #000;">filtered–table–aliases</span>
<span class="t" style="left:255.90px;top:1900.19px;font-size:11px;line-height:11px;color:#000;transform:scaleX(1.0385);letter-spacing:0.360px;-webkit-text-stroke:0.3px #000;">Type</span>
<span class="t" style="left:293.90px;top:1900.19px;font-size:11px;line-height:11px;color:#000;transform:scaleX(1.0367);letter-spacing:0.217px;-webkit-text-stroke:0.3px #000;">filtered–table–aliases–type</span>
<span class="t" style="left:253.40px;top:1205.54px;font-size:10px;line-height:10px;color:#2e2e2e;transform:scaleX(1.0495);letter-spacing:0.294px;-webkit-text-stroke:0.26px #2e2e2e;">A table</span>
<span class="t" style="left:253.40px;top:1218.54px;font-size:10px;line-height:10px;color:#2e2e2e;transform:scaleX(1.0495);letter-spacing:0.281px;-webkit-text-stroke:0.26px #2e2e2e;">can either</span>
<span class="t" style="left:253.40px;top:1231.54px;font-size:10px;line-height:10px;color:#2e2e2e;transform:scaleX(1.0495);letter-spacing:0.346px;-webkit-text-stroke:0.26px #2e2e2e;">have a</span>
<span class="t" style="left:253.40px;top:1244.54px;font-size:10px;line-height:10px;color:#2e2e2e;transform:scaleX(1.0495);letter-spacing:0.316px;-webkit-text-stroke:0.26px #2e2e2e;">primary–k</span>
<span class="t" style="left:253.40px;top:1257.54px;font-size:10px;line-height:10px;color:#2e2e2e;transform:scaleX(1.0495);letter-spacing:0.609px;-webkit-text-stroke:0.26px #2e2e2e;">ey</span>
<span class="t" style="left:253.40px;top:1270.54px;font-size:10px;line-height:10px;color:#2e2e2e;transform:scaleX(1.0495);letter-spacing:0.284px;-webkit-text-stroke:0.26px #2e2e2e;">specified</span>
<span class="t" style="left:253.40px;top:1283.54px;font-size:10px;line-height:10px;color:#2e2e2e;transform:scaleX(1.0495);letter-spacing:0.329px;-webkit-text-stroke:0.26px #2e2e2e;">or be</span>
<span class="t" style="left:253.40px;top:1296.54px;font-size:10px;line-height:10px;color:#2e2e2e;transform:scaleX(1.0495);letter-spacing:0.312px;-webkit-text-stroke:0.26px #2e2e2e;">automatic</span>
<span class="t" style="left:253.40px;top:1309.54px;font-size:10px;line-height:10px;color:#2e2e2e;transform:scaleX(1.0495);letter-spacing:0.289px;-webkit-text-stroke:0.26px #2e2e2e;">ally</span>
<span class="t" style="left:253.40px;top:1322.54px;font-size:10px;line-height:10px;color:#2e2e2e;transform:scaleX(1.0495);letter-spacing:0.330px;-webkit-text-stroke:0.26px #2e2e2e;">assigned</span>
<span class="t" style="left:253.40px;top:1335.54px;font-size:10px;line-height:10px;color:#2e2e2e;transform:scaleX(1.0495);letter-spacing:0.321px;-webkit-text-stroke:0.26px #2e2e2e;">a</span>
<span class="t" style="left:253.40px;top:1348.54px;font-size:10px;line-height:10px;color:#2e2e2e;transform:scaleX(1.0495);letter-spacing:0.316px;-webkit-text-stroke:0.26px #2e2e2e;">primary–k</span>
<span class="t" style="left:253.40px;top:1361.54px;font-size:10px;line-height:10px;color:#2e2e2e;transform:scaleX(1.0495);letter-spacing:0.334px;-webkit-text-stroke:0.26px #2e2e2e;">ey based</span>
<span class="t" style="left:253.40px;top:1374.54px;font-size:10px;line-height:10px;color:#2e2e2e;transform:scaleX(1.0495);letter-spacing:0.361px;-webkit-text-stroke:0.26px #2e2e2e;">on an</span>
<span class="t" style="left:253.40px;top:1387.54px;font-size:10px;line-height:10px;color:#2e2e2e;transform:scaleX(1.0495);letter-spacing:0.237px;-webkit-text-stroke:0.26px #2e2e2e;">internal...</span>
<svg class="ov" width="774" height="1920" viewBox="0 0 774 1920" style="pointer-events:none"><defs><filter id="bl" x="-30%" y="-30%" width="160%" height="160%"><feGaussianBlur stdDeviation="1.2"/></filter></defs><g transform="translate(166.4,13.4)"><circle r="4.95" fill="#fff" stroke="#000" stroke-width="1.1"/><path d="M-2.4 0H2.4" stroke="#000" stroke-width="1.2"/></g><g transform="translate(180.2,8.9)" fill="none" stroke="#f0a02c" stroke-width="1.15" stroke-linecap="round"><path d="M6.6 9.5 A4.25 4.65 0 1 1 8.95 5.9 Q8.7 7.5 7.3 7.45 Q6.25 7.3 6.35 6 L6.6 3.1"/><ellipse cx="4.7" cy="5.3" rx="1.65" ry="2.05"/></g><path d="M172.65 38.65 H273.95 A6.5 6.5 0 0 1 280.45 45.15 V69.75 A6.5 6.5 0 0 1 273.95 76.25 H172.65 Z" fill="none" stroke="#000" stroke-width="1.3"/><g transform="translate(180.0,43.9)" fill="none" stroke="#f0a02c" stroke-width="1.15" stroke-linecap="round"><path d="M6.6 9.5 A4.25 4.65 0 1 1 8.95 5.9 Q8.7 7.5 7.3 7.45 Q6.25 7.3 6.35 6 L6.6 3.1"/><ellipse cx="4.7" cy="5.3" rx="1.65" ry="2.05"/></g><g transform="translate(289.5,57.5)"><circle r="4.95" fill="#fff" stroke="#000" stroke-width="1.1"/><path d="M-1.9 0H1.9M0 -1.9V1.9" stroke="#000" stroke-width="1.15"/></g><g transform="translate(180.0,138.9)" fill="none" stroke="#f0a02c" stroke-width="1.15" stroke-linecap="round"><path d="M6.6 9.5 A4.25 4.65 0 1 1 8.95 5.9 Q8.7 7.5 7.3 7.45 Q6.25 7.3 6.35 6 L6.6 3.1"/><ellipse cx="4.7" cy="5.3" rx="1.65" ry="2.05"/></g><g transform="translate(298.5,152.5)"><circle r="4.95" fill="#fff" stroke="#000" stroke-width="1.1"/><path d="M-1.9 0H1.9M0 -1.9V1.9" stroke="#000" stroke-width="1.15"/></g><g transform="translate(180.0,220.9)" fill="none" stroke="#f0a02c" stroke-width="1.15" stroke-linecap="round"><path d="M6.6 9.5 A4.25 4.65 0 1 1 8.95 5.9 Q8.7 7.5 7.3 7.45 Q6.25 7.3 6.35 6 L6.6 3.1"/><ellipse cx="4.7" cy="5.3" rx="1.65" ry="2.05"/></g><g transform="translate(289.5,234.5)"><circle r="4.95" fill="#fff" stroke="#000" stroke-width="1.1"/><path d="M-1.9 0H1.9M0 -1.9V1.9" stroke="#000" stroke-width="1.15"/></g><g transform="translate(180.0,302.9)" fill="none" stroke="#f0a02c" stroke-width="1.15" stroke-linecap="round"><path d="M6.6 9.5 A4.25 4.65 0 1 1 8.95 5.9 Q8.7 7.5 7.3 7.45 Q6.25 7.3 6.35 6 L6.6 3.1"/><ellipse cx="4.7" cy="5.3" rx="1.65" ry="2.05"/></g><g transform="translate(310.5,316.5)"><circle r="4.95" fill="#fff" stroke="#000" stroke-width="1.1"/><path d="M-1.9 0H1.9M0 -1.9V1.9" stroke="#000" stroke-width="1.15"/></g><g transform="translate(180.0,384.9)" fill="none" stroke="#f0a02c" stroke-width="1.15" stroke-linecap="round"><path d="M6.6 9.5 A4.25 4.65 0 1 1 8.95 5.9 Q8.7 7.5 7.3 7.45 Q6.25 7.3 6.35 6 L6.6 3.1"/><ellipse cx="4.7" cy="5.3" rx="1.65" ry="2.05"/></g><g transform="translate(279.5,398.5)"><circle r="4.95" fill="#fff" stroke="#000" stroke-width="1.1"/><path d="M-1.9 0H1.9M0 -1.9V1.9" stroke="#000" stroke-width="1.15"/></g><g transform="translate(180.0,466.9)" fill="none" stroke="#f0a02c" stroke-width="1.15" stroke-linecap="round"><path d="M6.6 9.5 A4.25 4.65 0 1 1 8.95 5.9 Q8.7 7.5 7.3 7.45 Q6.25 7.3 6.35 6 L6.6 3.1"/><ellipse cx="4.7" cy="5.3" rx="1.65" ry="2.05"/></g><g transform="translate(334.5,480.5)"><circle r="4.95" fill="#fff" stroke="#000" stroke-width="1.1"/><path d="M-1.9 0H1.9M0 -1.9V1.9" stroke="#000" stroke-width="1.15"/></g><g transform="translate(180.0,574.9)" fill="none" stroke="#f0a02c" stroke-width="1.15" stroke-linecap="round"><path d="M6.6 9.5 A4.25 4.65 0 1 1 8.95 5.9 Q8.7 7.5 7.3 7.45 Q6.25 7.3 6.35 6 L6.6 3.1"/><ellipse cx="4.7" cy="5.3" rx="1.65" ry="2.05"/></g><g transform="translate(328.5,588.5)"><circle r="4.95" fill="#fff" stroke="#000" stroke-width="1.1"/><path d="M-1.9 0H1.9M0 -1.9V1.9" stroke="#000" stroke-width="1.15"/></g><g transform="translate(180.0,669.9)" fill="none" stroke="#f0a02c" stroke-width="1.15" stroke-linecap="round"><path d="M6.6 9.5 A4.25 4.65 0 1 1 8.95 5.9 Q8.7 7.5 7.3 7.45 Q6.25 7.3 6.35 6 L6.6 3.1"/><ellipse cx="4.7" cy="5.3" rx="1.65" ry="2.05"/></g><g transform="translate(364.5,692.5)"><circle r="4.95" fill="#fff" stroke="#000" stroke-width="1.1"/><path d="M-1.9 0H1.9M0 -1.9V1.9" stroke="#000" stroke-width="1.15"/></g><g transform="translate(104.5,869.4)"><circle r="4.95" fill="#fff" stroke="#000" stroke-width="1.1"/><path d="M-2.4 0H2.4" stroke="#000" stroke-width="1.2"/></g><circle cx="174.20000000000002" cy="1351.6000000000001" r="14" fill="#000" opacity="0.45" filter="url(#bl)"/><circle cx="172.4" cy="1349.4" r="13.7" fill="#fdf8cf" stroke="#111" stroke-width="1.2"/><g transform="translate(172.4,1349.4)" stroke="#000" stroke-width="1" fill="#b9b9b9"><path d="M-9 3.1H-5.5M6 -2.9H9" fill="none" stroke-width="1.1"/><rect x="0.1" y="-5.9" width="6" height="5.5"/><rect x="-2.9" y="-2.9" width="6" height="6"/><rect x="-5.9" y="0.1" width="6" height="6"/><rect x="-10.4" y="1.8" width="2.1" height="2.6" fill="#000" stroke="none"/><rect x="8.4" y="-4.2" width="2.1" height="2.6" fill="#000" stroke="none"/></g><g transform="translate(195.4,1349.3)"><circle r="4.95" fill="#fff" stroke="#000" stroke-width="1.1"/><path d="M-2.4 0H2.4" stroke="#000" stroke-width="1.2"/></g><circle cx="266.3" cy="1176.6000000000001" r="14" fill="#000" opacity="0.45" filter="url(#bl)"/><circle cx="264.5" cy="1174.4" r="13.7" fill="#fdf8cf" stroke="#111" stroke-width="1.2"/><g transform="translate(264.5,1174.4)" stroke="#000" stroke-width="1"><path d="M-7 -4.9H7" fill="none" stroke-width="1.1"/><rect x="-3" y="-7.9" width="6" height="6" fill="#b9b9b9"/><rect x="-3" y="1.1" width="6" height="6" fill="#fff"/><rect x="-8.5" y="-6.2" width="2.2" height="2.6" fill="#000" stroke="none"/><rect x="6.3" y="-6.2" width="2.2" height="2.6" fill="#000" stroke="none"/></g><g transform="translate(287.5,1174.2)"><circle r="4.95" fill="#fff" stroke="#000" stroke-width="1.1"/><path d="M-2.4 0H2.4" stroke="#000" stroke-width="1.2"/></g><circle cx="266.2" cy="1767.6000000000001" r="14" fill="#000" opacity="0.45" filter="url(#bl)"/><circle cx="264.4" cy="1765.4" r="13.7" fill="#fdf8cf" stroke="#111" stroke-width="1.2"/><g transform="translate(264.4,1765.4)" stroke="#000" stroke-width="1" fill="#b9b9b9"><path d="M-9 3.1H-5.5M6 -2.9H9" fill="none" stroke-width="1.1"/><rect x="0.1" y="-5.9" width="6" height="5.5"/><rect x="-2.9" y="-2.9" width="6" height="6"/><rect x="-5.9" y="0.1" width="6" height="6"/><rect x="-10.4" y="1.8" width="2.1" height="2.6" fill="#000" stroke="none"/><rect x="8.4" y="-4.2" width="2.1" height="2.6" fill="#000" stroke="none"/></g><g transform="translate(287.5,1765.4)"><circle r="4.95" fill="#fff" stroke="#000" stroke-width="1.1"/><path d="M-2.4 0H2.4" stroke="#000" stroke-width="1.2"/></g><circle cx="355.3" cy="1767.6000000000001" r="14" fill="#000" opacity="0.45" filter="url(#bl)"/><circle cx="353.5" cy="1765.4" r="13.7" fill="#fdf8cf" stroke="#111" stroke-width="1.2"/><g transform="translate(353.5,1765.4)" stroke="#000" stroke-width="1"><path d="M-7 -4.9H7" fill="none" stroke-width="1.1"/><rect x="-3" y="-7.9" width="6" height="6" fill="#b9b9b9"/><rect x="-3" y="1.1" width="6" height="6" fill="#fff"/><rect x="-8.5" y="-6.2" width="2.2" height="2.6" fill="#000" stroke="none"/><rect x="6.3" y="-6.2" width="2.2" height="2.6" fill="#000" stroke="none"/></g><g transform="translate(376.5,1765.4)"><circle r="4.95" fill="#fff" stroke="#000" stroke-width="1.1"/><path d="M-2.4 0H2.4" stroke="#000" stroke-width="1.2"/></g><g transform="translate(338.5,803.5)"><circle r="4.95" fill="#fff" stroke="#000" stroke-width="1.1"/><path d="M-1.9 0H1.9M0 -1.9V1.9" stroke="#000" stroke-width="1.15"/></g><g transform="translate(392.5,885.5)"><circle r="4.95" fill="#fff" stroke="#000" stroke-width="1.1"/><path d="M-1.9 0H1.9M0 -1.9V1.9" stroke="#000" stroke-width="1.15"/></g><g transform="translate(360.5,937.5)"><circle r="4.95" fill="#fff" stroke="#000" stroke-width="1.1"/><path d="M-1.9 0H1.9M0 -1.9V1.9" stroke="#000" stroke-width="1.15"/></g><g transform="translate(366.5,1032.5)"><circle r="4.95" fill="#fff" stroke="#000" stroke-width="1.1"/><path d="M-1.9 0H1.9M0 -1.9V1.9" stroke="#000" stroke-width="1.15"/></g><g transform="translate(459.5,1127.5)"><circle r="4.95" fill="#fff" stroke="#000" stroke-width="1.1"/><path d="M-1.9 0H1.9M0 -1.9V1.9" stroke="#000" stroke-width="1.15"/></g><g transform="translate(520.5,1222.5)"><circle r="4.95" fill="#fff" stroke="#000" stroke-width="1.1"/><path d="M-1.9 0H1.9M0 -1.9V1.9" stroke="#000" stroke-width="1.15"/></g><g transform="translate(347.5,1433.5)"><circle r="4.95" fill="#fff" stroke="#000" stroke-width="1.1"/><path d="M-1.9 0H1.9M0 -1.9V1.9" stroke="#000" stroke-width="1.15"/></g><g transform="translate(357.5,1528.5)"><circle r="4.95" fill="#fff" stroke="#000" stroke-width="1.1"/><path d="M-1.9 0H1.9M0 -1.9V1.9" stroke="#000" stroke-width="1.15"/></g><g transform="translate(365.5,1636.5)"><circle r="4.95" fill="#fff" stroke="#000" stroke-width="1.1"/><path d="M-1.9 0H1.9M0 -1.9V1.9" stroke="#000" stroke-width="1.15"/></g><g transform="translate(577.5,1718.5)"><circle r="4.95" fill="#fff" stroke="#000" stroke-width="1.1"/><path d="M-1.9 0H1.9M0 -1.9V1.9" stroke="#000" stroke-width="1.15"/></g><g transform="translate(541.5,1813.5)"><circle r="4.95" fill="#fff" stroke="#000" stroke-width="1.1"/><path d="M-1.9 0H1.9M0 -1.9V1.9" stroke="#000" stroke-width="1.15"/></g><g transform="translate(450.5,1895.5)"><circle r="4.95" fill="#fff" stroke="#000" stroke-width="1.1"/><path d="M-1.9 0H1.9M0 -1.9V1.9" stroke="#000" stroke-width="1.15"/></g></svg>
</body></html>
